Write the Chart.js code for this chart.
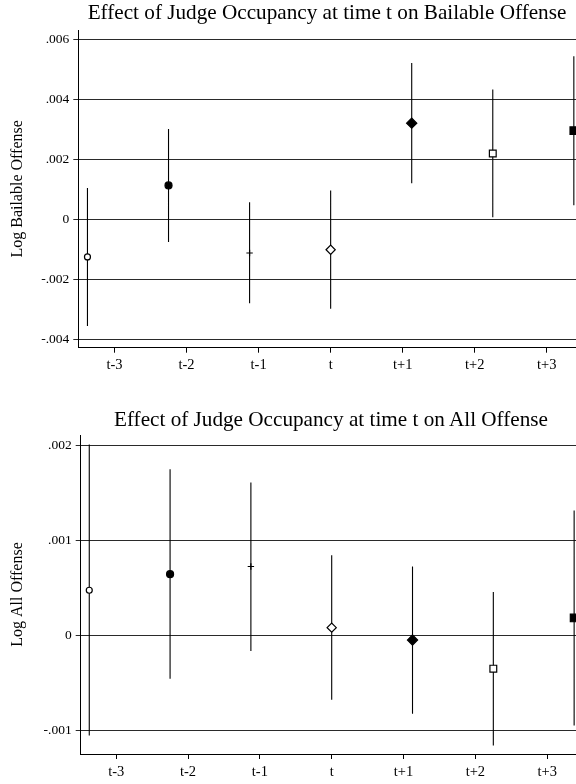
<!DOCTYPE html>
<html><head><meta charset="utf-8">
<script src="https://cdn.jsdelivr.net/npm/chart.js@4.4.1/dist/chart.umd.min.js"></script>
<style>
html,body{margin:0;padding:0;background:#fff;overflow:hidden;width:576px;height:784px;}
#wrap{position:relative;width:576px;height:784px;overflow:hidden;background:#fff;}
canvas{position:absolute;left:0;}
.ttl{position:absolute;left:0;text-align:center;font-family:'Liberation Serif',serif;font-size:21.2px;line-height:1;color:#000;white-space:nowrap;}
</style></head><body>
<div id="wrap">
<canvas id="c1" style="top:0px" width="600" height="392"></canvas>
<canvas id="c2" style="top:392px" width="600" height="392"></canvas>
<div class="ttl" style="top:2px;width:654px">Effect of Judge Occupancy at time t on Bailable Offense</div>
<div class="ttl" style="top:409px;width:662px">Effect of Judge Occupancy at time t on All Offense</div>
</div>
<script>
// ---- data ----
const categories = ['t-3','t-2','t-1','t','t+1','t+2','t+3'];
const periods = [-3,-2,-1,0,1,2,3];

const bailCoef = [-0.00125, 0.00113, -0.00112, -0.00101, 0.00320, 0.00219, 0.00295];
const bailLo   = [-0.00355, -0.00075, -0.00279, -0.00297, 0.00120, 0.00007, 0.00047];
const bailHi   = [0.00104, 0.00301, 0.00057, 0.00096, 0.00520, 0.00432, 0.00543];

const allCoef = [0.000475, 0.000644, 0.000725, 0.000081, -0.000050, -0.000351, 0.000183];
const allLo   = [-0.001055, -0.000457, -0.000166, -0.000679, -0.000826, -0.001160, -0.000950];
const allHi   = [0.002010, 0.001750, 0.001610, 0.000844, 0.000725, 0.000457, 0.001316];

const bailYTicks = [-0.004, -0.002, 0, 0.002, 0.004, 0.006];
const allYTicks  = [-0.001, 0, 0.001, 0.002];

// ---- style ----
const FAMILY = "'Liberation Serif', serif";
const xTickStep = 8/9;
const markerStyles = ['circle','circle','cross','rectRot','rectRot','rect','rect'];
const markerFilled = [false,true,false,false,true,false,true];
const markerRadius = [3,3.5,3.2,4.6,5.1,4.8,5.4];

function fmtY(v){
  if (Math.abs(v) < 1e-12) return '0';
  return v.toFixed(3).replace(/^(-?)0\./, '$1.');
}

function build(id, coef, lo, hi, yTicks, yTitle, g){
  const pts = periods.map((p,i)=>({x:p, y:coef[i]}));
  const bars = [];
  periods.forEach((p,i)=>{ bars.push({x:p,y:lo[i]},{x:p,y:hi[i]},{x:p,y:null}); });
  return new Chart(document.getElementById(id), {
    type:'scatter',
    data:{datasets:[
      {data:pts, pointStyle:markerStyles, pointRadius:markerRadius,
       pointBackgroundColor:markerFilled.map(f=>f?'#000':'#fff'),
       pointBorderColor:'#000', pointBorderWidth:1.2, showLine:false, clip:false},
      {data:bars, showLine:true, spanGaps:false, borderColor:'#000', borderWidth:1.1,
       pointRadius:0, clip:false}
    ]},
    options:{
      responsive:false, animation:false, devicePixelRatio:1,
      events:[],
      layout:{padding:{top:g.top, left:0, right:g.right, bottom:0}},
      plugins:{legend:{display:false}, tooltip:{enabled:false}, title:{display:false}},
      scales:{
        x:{type:'linear', min:g.xMin, max:g.xMax,
          afterFit:s=>{s.height=g.xh;},
          afterBuildTicks:s=>{s.ticks=categories.map((c,i)=>({value:(i-3)*xTickStep}));},
          ticks:{callback:(v,i)=>categories[i], font:{family:FAMILY,size:14.5}, color:'#000',
                 padding:4, maxRotation:0, autoSkip:false},
          grid:{drawOnChartArea:false, drawTicks:true, tickLength:5, color:'#000', tickWidth:1},
          border:{display:true, color:'#000', width:1}
        },
        y:{type:'linear', min:g.yMin, max:g.yMax,
          afterFit:s=>{s.width=g.yw;},
          afterBuildTicks:s=>{s.ticks=yTicks.map(v=>({value:v}));},
          ticks:{callback:v=>fmtY(v), font:{family:FAMILY,size:13.5}, color:'#000', padding:4},
          grid:{color:'#2a2a2a', lineWidth:1, tickLength:5, tickColor:'#2a2a2a'},
          border:{display:true, color:'#000', width:1},
          title:{display:true, text:yTitle, font:{family:FAMILY,size:16}, color:'#000',
                 padding:{top:8.5,bottom:0}}
        }
      }
    }
  });
}

build('c1', bailCoef, bailLo, bailHi, bailYTicks, 'Log Bailable Offense',
  {top:30, right:17, yw:78.3, xh:44.3, xMin:-3.113, xMax:3.113, yMin:-0.00427, yMax:0.0063});
build('c2', allCoef, allLo, allHi, allYTicks, 'Log All Offense',
  {top:43, right:17.3, yw:80.7, xh:30, xMin:-3.106, xMax:3.106, yMin:-0.00125, yMax:0.00211});
</script>
</body></html>
